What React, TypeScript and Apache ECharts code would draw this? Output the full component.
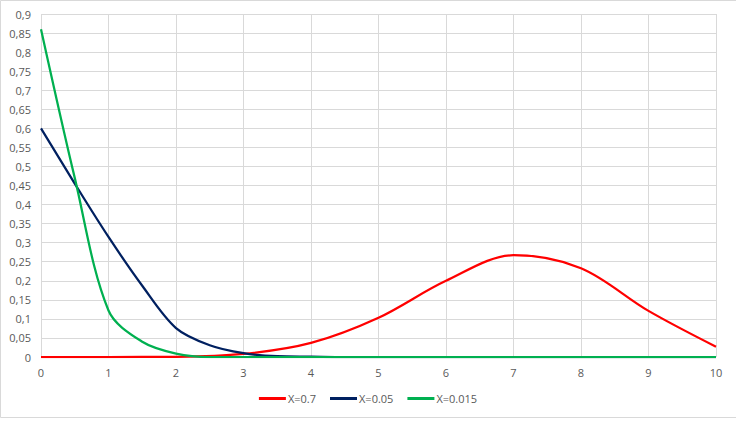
import React, { useEffect, useRef } from "react";
import * as echarts from "echarts";

const seriesNames = ["X=0.7", "X=0.05", "X=0.015"];
const seriesColors = ["#FF0000", "#002060", "#00B050"];

const xWhole = [0, 1, 2, 3, 4, 5, 6, 7, 8, 9, 10];
const xHalf = [0, 0.5, 1, 1.5, 2, 2.5, 3, 3.5, 4, 4.5, 5, 5.5, 6, 6.5, 7, 7.5, 8, 8.5, 9, 9.5, 10];

const redValues = [0, 0, 0.0005, 0.008, 0.037, 0.103, 0.2, 0.267, 0.233, 0.121, 0.027];
const blueValues = [0.6, 0.455, 0.315, 0.187, 0.076, 0.031, 0.01, 0.002, 0.001, 0, 0, 0, 0, 0, 0, 0, 0, 0, 0, 0, 0];
const greenValues = [0.86, 0.47, 0.122, 0.04, 0.009, 0, 0, 0, 0, 0, 0, 0, 0, 0, 0, 0, 0, 0, 0, 0, 0];

const yTickInterval = 0.05;
const xTickInterval = 1;

const pairs = (xs: number[], vals: number[]) => xs.map((x, i) => [x, vals[i]]);

export default function App() {
  const ref = useRef<HTMLDivElement>(null);
  useEffect(() => {
    if (!ref.current) return;
    const chart = echarts.init(ref.current, null, { renderer: "svg" });
    const font = "Open Sans";
    const allData = [
      pairs(xWhole, redValues),
      pairs(xHalf, blueValues),
      pairs(xHalf, greenValues),
    ];
    chart.setOption({
      animation: false,
      backgroundColor: "#ffffff",
      textStyle: { fontFamily: font },
      grid: { left: 41, right: 20, top: 14, bottom: 64, containLabel: false },
      xAxis: {
        type: "value",
        min: 0,
        max: 10,
        interval: xTickInterval,
        axisLine: { show: false },
        axisTick: { show: false },
        splitLine: { show: true, lineStyle: { color: "#d9d9d9", width: 1 } },
        axisLabel: { color: "#595959", fontSize: 11, margin: 10, fontFamily: font },
      },
      yAxis: {
        type: "value",
        min: 0,
        max: 0.9,
        interval: yTickInterval,
        axisLine: { show: false },
        axisTick: { show: false },
        splitLine: { show: true, lineStyle: { color: "#d9d9d9", width: 1 } },
        axisLabel: {
          color: "#595959",
          fontSize: 11,
          margin: 10,
          fontFamily: font,
          formatter: (v: number) => String(+v.toFixed(2)).replace(".", ","),
        },
      },
      legend: {
        bottom: 12,
        left: "center",
        itemWidth: 27,
        itemHeight: 3,
        itemGap: 14,
        icon: "rect",
        textStyle: { color: "#595959", fontSize: 11, fontFamily: font, padding: [0, 0, 0, -3] },
        data: seriesNames,
      },
      series: seriesNames.map((name, i) => ({
        name,
        type: "line",
        data: allData[i],
        smooth: 0.33,
        symbol: "none",
        showSymbol: false,
        lineStyle: { color: seriesColors[i], width: 2.25 },
        itemStyle: { color: seriesColors[i] },
        z: 2 + i,
      })),
      graphic: [
        {
          type: "rect",
          shape: { x: 0.5, y: 0.5, width: 740, height: 417 },
          style: { fill: "none", stroke: "#d9d9d9", lineWidth: 1 },
          silent: true,
        },
      ],
    });
    return () => chart.dispose();
  }, []);
  return (
    <div
      ref={ref}
      style={{ position: "fixed", left: 0, top: 0, width: 736, height: 421 }}
    />
  );
}
